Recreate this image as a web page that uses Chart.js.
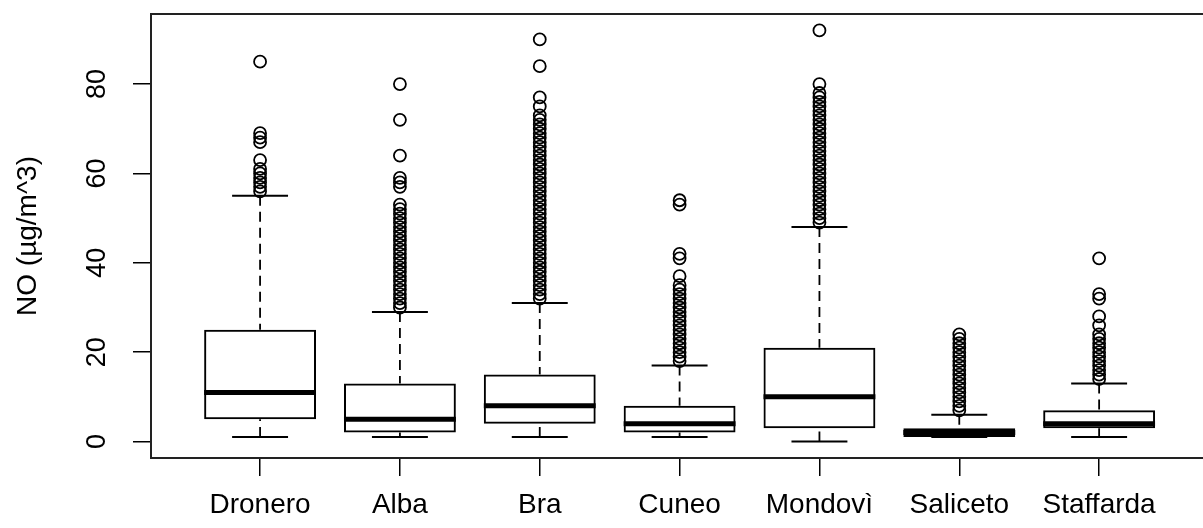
<!DOCTYPE html>
<html>
<head>
<meta charset="utf-8">
<script src="https://cdn.jsdelivr.net/npm/chart.js@4"></script>
<style>
  body { margin: 0; background: #fff; }
  #wrap { width: 1203px; height: 528px; overflow: hidden; }
</style>
</head>
<body>
<div id="wrap"><canvas id="myCanvas" width="1216" height="528"></canvas></div>
<script>
// stations and box statistics (NO, µg/m^3)
const categories = ['Dronero', 'Alba', 'Bra', 'Cuneo', 'Mondovì', 'Saliceto', 'Staffarda']
const whiskerLow = [1, 1, 1, 1, 0, 1, 1]
const q1 = [5, 2, 4, 2, 3, 1, 3]
const median = [11, 5, 8, 4, 10, 2, 4]
const q3 = [25, 13, 15, 8, 21, 3, 7]
const whiskerHigh = [55, 29, 31, 17, 48, 6, 13]
const yTicks = [0, 20, 40, 60, 80]

// outliers per station
const outDronero = [56, 57, 58, 59, 60, 61, 63, 67, 68, 69, 85]
const outAlba = [30, 31, 32, 33, 34, 35, 36, 37, 38, 39, 40, 41, 42, 43, 44, 45, 46, 47, 48, 49, 50, 51, 52, 53, 57, 58, 59, 64, 72, 80]
const outBra = [32, 33, 34, 35, 36, 37, 38, 39, 40, 41, 42, 43, 44, 45, 46, 47, 48, 49, 50, 51, 52, 53, 54, 55, 56, 57, 58, 59, 60, 61, 62, 63, 64, 65, 66, 67, 68, 69, 70, 71, 72, 73, 75, 77, 84, 90]
const outCuneo = [18, 19, 20, 21, 22, 23, 24, 25, 26, 27, 28, 29, 30, 31, 32, 33, 34, 35, 37, 41, 42, 53, 54]
const outMondovi = [49, 50, 51, 52, 53, 54, 55, 56, 57, 58, 59, 60, 61, 62, 63, 64, 65, 66, 67, 68, 69, 70, 71, 72, 73, 74, 75, 76, 77, 78, 80, 92]
const outSaliceto = [7, 8, 9, 10, 11, 12, 13, 14, 15, 16, 17, 18, 19, 20, 21, 22, 23, 24]
const outStaffarda = [14, 15, 16, 17, 18, 19, 20, 21, 22, 23, 24, 26, 28, 32, 33, 41]

const outliers = [outDronero, outAlba, outBra, outCuneo, outMondovi, outSaliceto, outStaffarda]

document.addEventListener('DOMContentLoaded', () => {
  createBoxPlot()
})

const boxExtras = {
  id: 'boxExtras',
  beforeDatasetsDraw(chart) {
    const { ctx, scales: { x, y } } = chart
    ctx.save()
    ctx.strokeStyle = '#000'
    ctx.lineWidth = 1.8
    ctx.setLineDash([10, 6])
    categories.forEach((c, i) => {
      const px = x.getPixelForValue(i + 1)
      ctx.beginPath()
      ctx.moveTo(px, y.getPixelForValue(whiskerHigh[i]))
      ctx.lineTo(px, y.getPixelForValue(q3[i]))
      ctx.moveTo(px, y.getPixelForValue(whiskerLow[i]))
      ctx.lineTo(px, y.getPixelForValue(q1[i]))
      ctx.stroke()
    })
    ctx.setLineDash([])
    ctx.lineWidth = 2
    categories.forEach((c, i) => {
      const xl = x.getPixelForValue(i + 0.8)
      const xr = x.getPixelForValue(i + 1.2)
      ctx.beginPath()
      ctx.moveTo(xl, y.getPixelForValue(whiskerHigh[i]))
      ctx.lineTo(xr, y.getPixelForValue(whiskerHigh[i]))
      ctx.moveTo(xl, y.getPixelForValue(whiskerLow[i]))
      ctx.lineTo(xr, y.getPixelForValue(whiskerLow[i]))
      ctx.stroke()
    })
    ctx.restore()
  },
  afterDatasetsDraw(chart) {
    const { ctx, scales: { x, y } } = chart
    ctx.save()
    ctx.strokeStyle = '#000'
    ctx.lineWidth = 5
    categories.forEach((c, i) => {
      const py = y.getPixelForValue(median[i])
      ctx.beginPath()
      ctx.moveTo(x.getPixelForValue(i + 0.6), py)
      ctx.lineTo(x.getPixelForValue(i + 1.4), py)
      ctx.stroke()
    })
    ctx.restore()
  },
  afterDraw(chart) {
    const { ctx, chartArea: a, scales: { y } } = chart
    ctx.save()
    ctx.strokeStyle = '#222'
    ctx.lineWidth = 2
    ctx.strokeRect(a.left, a.top, a.right - a.left, a.bottom - a.top)

    ctx.fillStyle = '#000'
    ctx.textAlign = 'center'
    ctx.textBaseline = 'middle'
    ctx.font = '27px "Liberation Sans", Arial, sans-serif'
    yTicks.forEach(v => {
      ctx.save()
      ctx.translate(98, y.getPixelForValue(v))
      ctx.rotate(-Math.PI / 2)
      ctx.fillText(String(v), 0, 0)
      ctx.restore()
    })
    ctx.font = '28px "Liberation Sans", Arial, sans-serif'
    ctx.translate(28, (a.top + a.bottom) / 2)
    ctx.rotate(-Math.PI / 2)
    ctx.fillText('NO (µg/m^3)', 0, 0)
    ctx.restore()
  }
}

function createBoxPlot() {
  const context = document.getElementById('myCanvas').getContext('2d')

  const boxes = categories.map((c, i) => ({ x: i + 1, y: [q1[i], q3[i]] }))
  const points = []
  outliers.forEach((list, i) => {
    list.forEach(v => points.push({ x: i + 1, y: v }))
  })

  new Chart(context, {
    type: 'bar',
    data: {
      datasets: [
        {
          type: 'scatter',
          data: points,
          pointStyle: 'circle',
          pointRadius: 6,
          borderColor: '#000',
          backgroundColor: 'rgba(0,0,0,0)',
          borderWidth: 1.8,
          order: 1
        },
        {
          type: 'bar',
          data: boxes,
          backgroundColor: 'rgba(0,0,0,0)',
          borderColor: '#000',
          borderWidth: 2,
          borderSkipped: false,
          barPercentage: 0.8,
          categoryPercentage: 1,
          order: 2
        }
      ]
    },
    options: {
      responsive: false,
      animation: false,
      devicePixelRatio: 1,
      layout: { padding: { top: 14, right: 5, left: 0, bottom: 0 } },
      plugins: {
        legend: { display: false },
        tooltip: { enabled: false }
      },
      scales: {
        x: {
          type: 'linear',
          min: 0.22,
          max: 7.78,
          offset: false,
          afterFit: s => { s.height = 70 },
          afterBuildTicks: s => { s.ticks = categories.map((c, i) => ({ value: i + 1 })) },
          ticks: {
            autoSkip: false,
            maxRotation: 0,
            padding: 12,
            color: '#000',
            font: { family: '"Liberation Sans", Arial, sans-serif', size: 28 },
            callback: v => categories[Math.round(v) - 1]
          },
          grid: { offset: false, drawOnChartArea: false, tickLength: 18, color: '#000', lineWidth: 1.5 },
          border: { display: false }
        },
        y: {
          type: 'linear',
          min: -3.68,
          max: 95.68,
          afterFit: s => { s.width = 151 },
          afterBuildTicks: s => { s.ticks = yTicks.map(v => ({ value: v })) },
          ticks: { display: false },
          grid: { offset: false, drawOnChartArea: false, tickLength: 18, color: '#000', lineWidth: 1.5 },
          border: { display: false }
        }
      }
    },
    plugins: [boxExtras]
  })
}
</script>
</body>
</html>
